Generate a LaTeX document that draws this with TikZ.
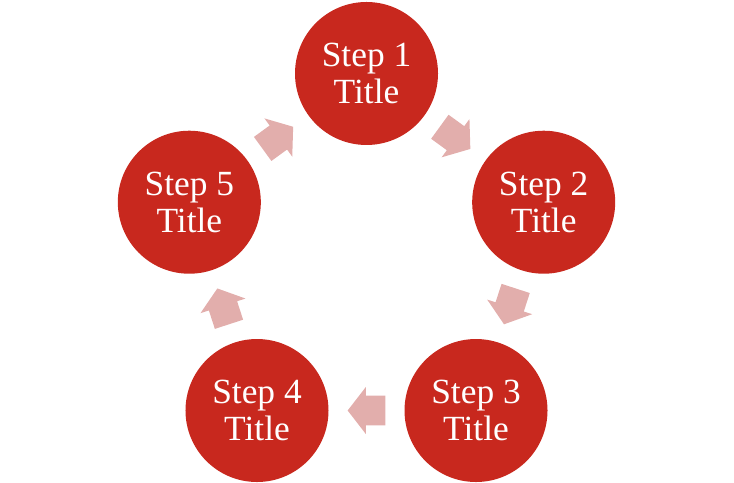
\documentclass[tikz,border=0pt]{standalone}
\usepackage{fontspec}
\setmainfont{Liberation Serif}
\usetikzlibrary{calc}
\definecolor{stepred}{RGB}{200,40,30}
\definecolor{arrowpink}{RGB}{226,174,172}
\tikzset{
  stepcircle/.style={circle,fill=stepred,minimum size=143bp,inner sep=0pt,
    text=white,align=center,font=\fontsize{35.5}{36.7}\selectfont},
  blockarrow/.style={fill=arrowpink}
}
\begin{document}
\begin{tikzpicture}[x=1bp,y=1bp]
\useasboundingbox (0,0) rectangle (734,483);
\coordinate (c) at (366.5,223.2);
\foreach \i in {1,...,5}{
  \node[stepcircle] (s\i) at ($(c)+({90-72*(\i-1)}:186.3)$) {Step \i\\Title};
}
\foreach \i [evaluate=\i as \j using {int(mod(\i,5)+1)},
             evaluate=\i as \d using {-36-72*(\i-1)}] in {1,...,5}{
  \coordinate (m\i) at ($(s\i)!0.5!(s\j)$);
  \fill[blockarrow, shift={(m\i)}, rotate=\d]
    (-18.85,-14.85) -- (0.55,-14.85) -- (0.55,-23.65) -- (18.85,0)
    -- (0.55,23.65) -- (0.55,14.85) -- (-18.85,14.85) -- cycle;
}
\end{tikzpicture}
\end{document}
